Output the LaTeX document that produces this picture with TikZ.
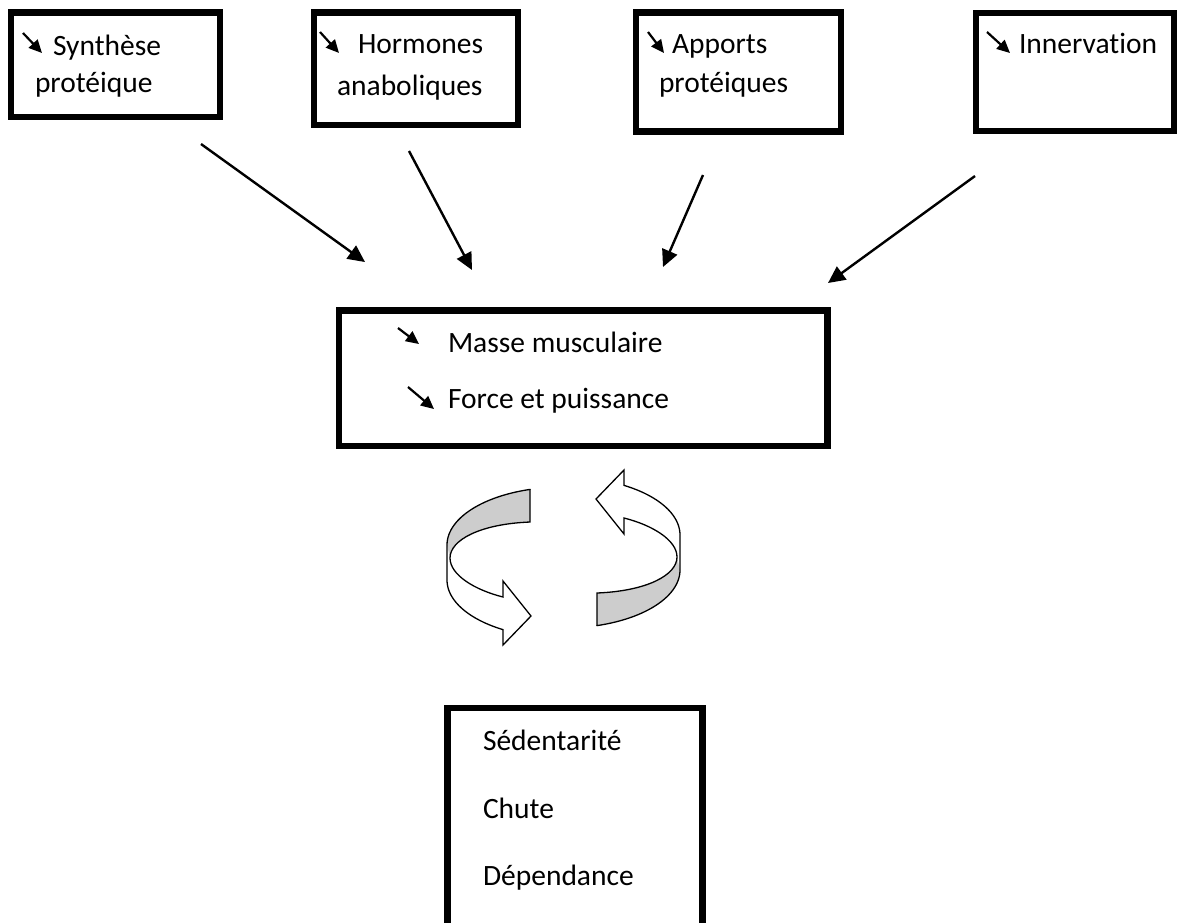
\documentclass[tikz,border=0pt]{standalone}
\usepackage{fontspec}
\setmainfont{Carlito}[Ligatures={NoCommon}]
\usetikzlibrary{arrows.meta}
\definecolor{ribbongray}{RGB}{205,205,205}
\newcommand\ribbonarrowshape{%
  \fill[white] (530,489)
    -- plot[domain=106.5:180,samples=30,variable=\t] ({563+116*cos(\t)},{545-58*sin(\t)})
    -- (447,580)
    -- plot[domain=180:238.9,samples=30,variable=\t] ({563+116*cos(\t)},{580-58*sin(\t)})
    -- (503,645) -- (531,616) -- (503,581) -- (503,597)
    .. controls (475,590) and (450,575) .. (450,558)
    .. controls (450,540) and (480,524) .. (530,522) -- cycle;
  \fill[ribbongray] (530,489)
    -- plot[domain=106.5:180,samples=30,variable=\t] ({563+116*cos(\t)},{545-58*sin(\t)})
    -- (450,558)
    .. controls (450,540) and (480,524) .. (530,522) -- cycle;
  \draw[ribbonline] (530,489)
    -- plot[domain=106.5:180,samples=30,variable=\t] ({563+116*cos(\t)},{545-58*sin(\t)})
    -- (447,580)
    -- plot[domain=180:238.9,samples=30,variable=\t] ({563+116*cos(\t)},{580-58*sin(\t)})
    -- (503,645) -- (531,616) -- (503,581) -- (503,597)
    .. controls (475,590) and (450,575) .. (450,558)
    .. controls (450,540) and (480,524) .. (530,522) -- cycle;
}
\begin{document}
\begin{tikzpicture}[x=1pt,y=-1pt,
  box/.style={draw=black, line width=6.5pt, inner sep=0pt, outer sep=0pt},
  lbl/.style={anchor=base west, inner sep=0pt, outer sep=0pt, font=\fontsize{29.5pt}{35pt}\selectfont},
  bigarrow/.style={line width=2.4pt, -{Triangle[length=17pt,width=16pt]}},
  smallarrow/.style={line width=2.2pt, -{Triangle[length=13pt,width=12pt]}},
  ribbonline/.style={line width=1.3pt, line join=miter}]
\useasboundingbox (0,0) rectangle (1177,922);
\clip (0,0) rectangle (1177,922);
\fill[white] (0,0) rectangle (1177,922);

% boxes
\node[box, minimum width=209pt, minimum height=104.5pt] (b1) at (115.5,64.75) {};
\node[box, minimum width=204pt, minimum height=112.5pt] (b2) at (416,68.75) {};
\node[box, minimum width=205pt, minimum height=119pt] (b3) at (738.5,72) {};
\node[box, minimum width=198pt, minimum height=118pt] (b4) at (1075,72) {};
\node[box, minimum width=488.5pt, minimum height=135.5pt] (mid) at (583.25,378.25) {};
\node[box, minimum width=255pt, minimum height=252pt] (bot) at (575,834) {};

% texts
\node[lbl] (t1a) at (53,55) {Synthèse};
\node[lbl] (t1b) at (35,92) {protéique};
\node[lbl] (t2a) at (358,53) {Hormones};
\node[lbl] (t2b) at (337,95) {anaboliques};
\node[lbl] (t3a) at (672,53) {Apports};
\node[lbl] (t3b) at (659,92) {protéiques};
\node[lbl] (t4a) at (1019,53) {Innervation};
\node[lbl] (tm1) at (448,352) {Masse musculaire};
\node[lbl] (tm2) at (448,408) {Force et puissance};
\node[lbl] (tb1) at (483,750) {Sédentarité};
\node[lbl] (tb2) at (483,818) {Chute};
\node[lbl] (tb3) at (483,885) {Dépendance};

% small arrows
\coordinate (sa1) at (23,33);   \coordinate (sb1) at (42,53);
\coordinate (sa2) at (320,32);  \coordinate (sb2) at (339,53);
\coordinate (sa3) at (648,32);  \coordinate (sb3) at (664,53);
\coordinate (sa4) at (987,32);  \coordinate (sb4) at (1010,53);
\coordinate (sa5) at (398,328); \coordinate (sb5) at (419,344);
\coordinate (sa6) at (408,387); \coordinate (sb6) at (434,409);
\foreach \i in {1,...,6} \draw[smallarrow] (sa\i) -- (sb\i);

% long arrows
\coordinate (la1) at (201,144); \coordinate (lb1) at (365,262);
\coordinate (la2) at (409,151); \coordinate (lb2) at (472,270);
\coordinate (la3) at (703,175); \coordinate (lb3) at (663,267);
\coordinate (la4) at (975,176); \coordinate (lb4) at (828,283);
\foreach \i in {1,...,4} \draw[bigarrow] (la\i) -- (lb\i);

% circular ribbon arrows
\ribbonarrowshape
\begin{scope}[rotate around={180:(563.5,557.5)}]
\ribbonarrowshape
\end{scope}
\end{tikzpicture}
\end{document}
